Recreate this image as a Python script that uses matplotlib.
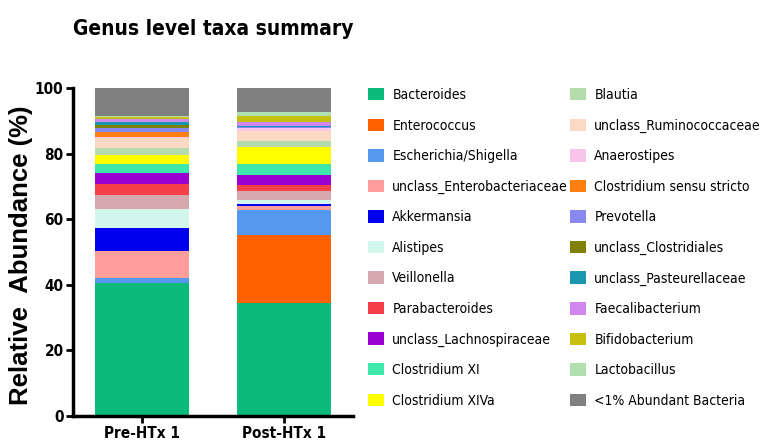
import numpy as np
import matplotlib.pyplot as plt
from matplotlib.patches import Patch

# -----------------------------
# data (% abundance)
# -----------------------------
samples = ['Pre-HTx 1', 'Post-HTx 1']
genera = ['Bacteroides', 'Enterococcus', 'Escherichia/Shigella', 'unclass_Enterobacteriaceae',
          'Akkermansia', 'Alistipes', 'Veillonella', 'Parabacteroides', 'unclass_Lachnospiraceae',
          'Clostridium XI', 'Clostridium XIVa', 'Blautia', 'unclass_Ruminococcaceae', 'Anaerostipes',
          'Clostridium sensu stricto', 'Prevotella', 'unclass_Clostridiales', 'unclass_Pasteurellaceae',
          'Faecalibacterium', 'Bifidobacterium', 'Lactobacillus', '<1% Abundant Bacteria']
pre_htx = [40.5, 0.0, 1.5, 8.2, 7.2, 5.6, 4.3, 3.6, 3.3, 2.5, 3.0, 2.0, 3.0, 0.4,
           1.5, 1.2, 1.0, 1.0, 0.8, 0.5, 0.3, 8.6]
post_htx = [34.5, 20.7, 7.6, 1.2, 0.8, 1.0, 2.8, 1.8, 3.0, 3.5, 5.0, 2.0, 3.0, 0.8,
            0.2, 0.1, 0.2, 0.2, 1.3, 1.7, 1.3, 7.3]
colors = ['#0bbb7b', '#ff6000', '#5599ee', '#ff9c9c', '#0000ee', '#d2f5ec', '#d6a9af', '#f5404a',
          '#9b00d3', '#3ee8aa', '#ffff00', '#b3dcaa', '#fcd9c4', '#f8c4ea', '#ff7f10', '#8888ee',
          '#7f7f00', '#1b96b0', '#d088ee', '#c8c010', '#b0e0b0', '#808080']

narrow = ['DejaVu Sans']

fig = plt.figure(figsize=(7.63, 4.48), dpi=100)
ax = fig.add_axes([0.096, 0.0714, 0.366, 0.732])

vals = np.array([pre_htx, post_htx])
x = np.arange(len(samples))
bottom = np.zeros(len(samples))
for i, g in enumerate(genera):
    ax.bar(x, vals[:, i], width=0.66, bottom=bottom, color=colors[i], label=g)
    bottom += vals[:, i]

ax.set_xlim(-0.48, 1.48)
ax.set_ylim(0, 100)
ax.set_yticks([0, 20, 40, 60, 80, 100])
ax.set_xticks(x)
ax.set_xticklabels(samples, family=narrow, stretch='condensed', fontweight='bold', fontsize=11)
for lab in ax.get_yticklabels():
    lab.set_family(narrow)
    lab.set_stretch('condensed')
    lab.set_fontweight('bold')
    lab.set_fontsize(11)
ax.tick_params(axis='both', direction='out', length=5, width=2, pad=2)
ax.spines['top'].set_visible(False)
ax.spines['right'].set_visible(False)
ax.spines['left'].set_linewidth(2.5)
ax.spines['bottom'].set_linewidth(2.5)

ax.set_ylabel('Relative  Abundance (%)', fontsize=18.5, fontweight='bold',
              family=['Liberation Sans', 'DejaVu Sans'])
ax.yaxis.set_label_coords(-0.145, 0.49)
fig.text(0.279, 0.935, 'Genus level taxa summary', ha='center', va='center',
         fontsize=15, fontweight='bold', family=narrow, stretch='condensed')

# legend in two columns
handles = [Patch(facecolor=c, edgecolor='none') for c in colors]
common = dict(frameon=False, loc='upper left', borderpad=0, borderaxespad=0,
              handlelength=1.15, handleheight=1.0, handletextpad=0.6, labelspacing=1.19,
              prop={'family': narrow, 'stretch': 'condensed', 'size': 10})
leg1 = fig.legend(handles[:11], genera[:11], bbox_to_anchor=(368 / 763, 1 - 88 / 448), **common)
leg2 = fig.legend(handles[11:], genera[11:], bbox_to_anchor=(570 / 763, 1 - 88 / 448), **common)

plt.savefig('out.png', dpi=100)
